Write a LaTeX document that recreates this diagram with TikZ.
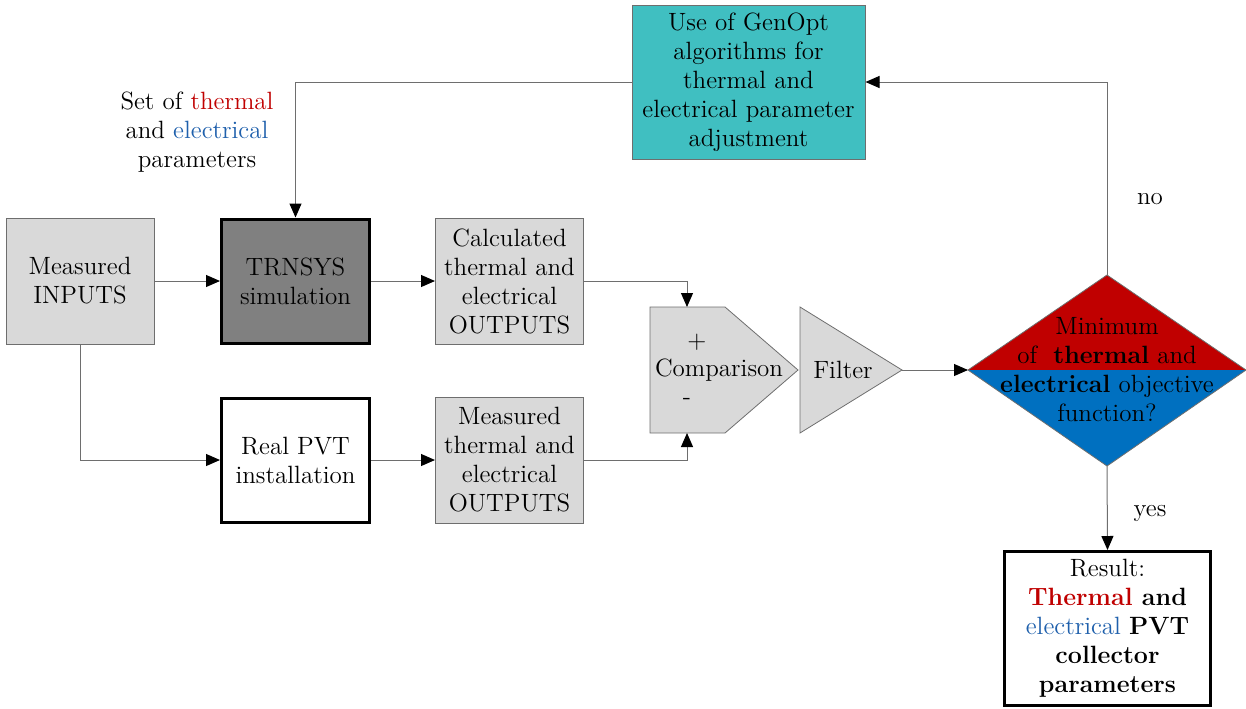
\documentclass[tikz,border=0pt]{standalone}
\usetikzlibrary{arrows.meta}
\definecolor{boxgray}{HTML}{D9D9D9}
\definecolor{simgray}{HTML}{808080}
\definecolor{optteal}{HTML}{40BFC1}
\definecolor{thermred}{HTML}{C00000}
\definecolor{elecblue}{HTML}{0070C0}
\definecolor{txtblue}{HTML}{1F60AC}
\definecolor{linegray}{HTML}{6E6E6E}
\begin{document}
\begin{tikzpicture}[x=0.5pt,y=-0.5pt,
  base/.style={font=\fontsize{12.5}{14.5}\selectfont, align=center, inner sep=1pt},
  databox/.style={base, draw=linegray, line width=0.5pt, fill=boxgray,
                  minimum width=74pt, minimum height=63pt},
  procbox/.style={base, draw=black, line width=1.5pt,
                  minimum width=74pt, minimum height=62pt},
  link/.style={draw=linegray, line width=0.5pt,
               -{Triangle[length=7pt,width=6pt,color=black]}},
  shapeline/.style={draw=linegray, line width=0.4pt}]
\useasboundingbox (0,0) rectangle (1246,708);

% input / process / output boxes
\node[databox] (inputs) at (80,281) {Measured\\INPUTS};
\node[procbox, fill=simgray] (trnsys) at (295.5,281) {TRNSYS\\simulation};
\node[databox] (calc) at (509.5,281) {Calculated\\thermal and\\electrical\\OUTPUTS};
\node[procbox, fill=white] (real) at (295.5,460) {Real PVT\\installation};
\node[databox] (meas) at (509.5,460) {Measured\\thermal and\\electrical\\OUTPUTS};

% optimiser box
\node[base, draw=linegray, line width=0.5pt, fill=optteal,
      minimum width=116.5pt, minimum height=77pt] (genopt) at (748.5,82)
  {Use of GenOpt\\algorithms for\\thermal and\\electrical parameter\\adjustment};

% parameter label
\node[base] (params) at (197,132)
  {Set of \textcolor{thermred}{thermal}\\and \textcolor{txtblue}{electrical}\\parameters};

% comparison block (pentagon)
\coordinate (cmpTL) at (650,307);
\coordinate (cmpTR) at (725,307);
\coordinate (cmpTip) at (798,370);
\coordinate (cmpBR) at (725,433);
\coordinate (cmpBL) at (650,433);
\coordinate (cmpTop) at (687,307);
\coordinate (cmpBot) at (687,433);
\path[shapeline, fill=boxgray] (cmpTL) -- (cmpTR) -- (cmpTip) -- (cmpBR) -- (cmpBL) -- cycle;
\node[base] (cmpplus) at (697,342) {+};
\node[base] (cmptext) at (719,370) {Comparison};
\node[base] (cmpminus) at (687,401) {-};

% filter block (triangle)
\coordinate (filTop) at (800,307);
\coordinate (filBot) at (800,433);
\coordinate (filTip) at (902,370);
\path[shapeline, fill=boxgray] (filTop) -- (filTip) -- (filBot) -- cycle;
\node[base] (filter) at (843,370) {Filter};

% decision diamond, split into two halves
\coordinate (dL) at (968,370);
\coordinate (dR) at (1246,370);
\coordinate (dT) at (1107,275);
\coordinate (dB) at (1107,466);
\path[fill=thermred] (dL) -- (dT) -- (dR) -- cycle;
\path[fill=elecblue] (dL) -- (dB) -- (dR) -- cycle;
\path[shapeline] (dL) -- (dT) -- (dR) -- (dB) -- cycle;
\node[base] (decision) at (1107,369.5)
  {Minimum\\of \ \textbf{thermal} and\\\textbf{electrical} objective\\function?};

% result box
\node[base, draw=black, line width=1.5pt, fill=white,
      minimum width=103pt, minimum height=77pt] (result) at (1107.5,628.5)
  {Result:\\\textbf{\textcolor{thermred}{Thermal} and}\\\textcolor{txtblue}{electrical} \textbf{PVT}\\\textbf{collector}\\\textbf{parameters}};

% branch labels
\node[base] (nolabel) at (1150,199) {no};
\node[base] (yeslabel) at (1150,513) {yes};

% connectors
\draw[link] (inputs.east) -- (trnsys.west);
\draw[link] (trnsys.east) -- (calc.west);
\draw[link] (calc.east) -| (cmpTop);
\draw[link] (inputs.south) |- (real.west);
\draw[link] (real.east) -- (meas.west);
\draw[link] (meas.east) -| (cmpBot);
\draw[link] (filTip) -- (dL);
\draw[link] (dT) |- (genopt.east);
\draw[link] (genopt.west) -| (trnsys.north);
\draw[link] (dB) -- (result.north);
\end{tikzpicture}
\end{document}
